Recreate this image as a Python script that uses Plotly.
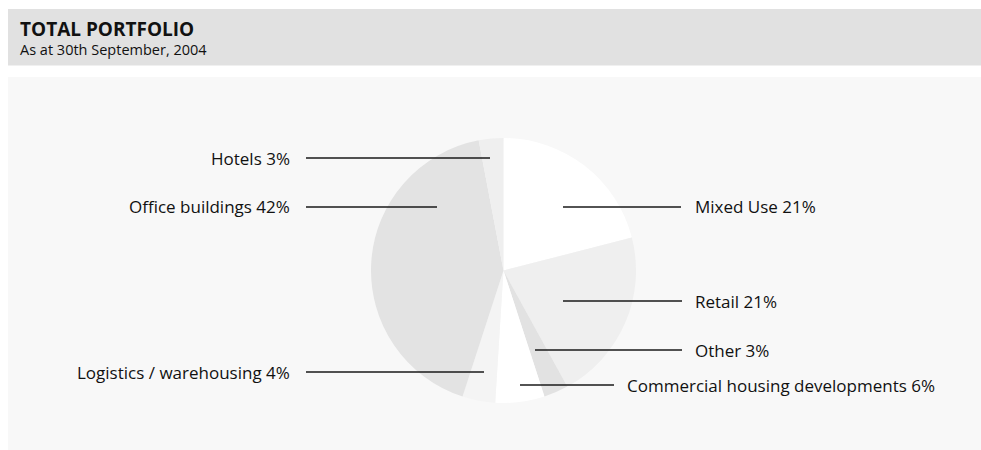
import plotly.graph_objects as go

W, H = 981, 450

categories = ["Mixed Use", "Retail", "Other", "Commercial housing developments",
              "Logistics / warehousing", "Office buildings", "Hotels"]
values = [21, 21, 3, 6, 4, 42, 3]
slice_colors = ["#ffffff", "#efefef", "#e2e2e2", "#ffffff", "#f4f4f4", "#e3e3e3", "#efefef"]

title_text = "TOTAL PORTFOLIO"
subtitle_text = "As at 30th September, 2004"

# label layout (pixel positions): side, text anchor x, y, line start, line end
label_layout = {
    "Mixed Use": ("left", 693, 207, 563, 681),
    "Retail": ("left", 693, 301, 563, 682),
    "Other": ("left", 693, 350, 535, 682),
    "Commercial housing developments": ("left", 625, 385, 520, 614),
    "Logistics / warehousing": ("right", 292, 372, 306, 484),
    "Office buildings": ("right", 292, 207, 306, 437),
    "Hotels": ("right", 292, 158, 306, 490),
}

def px(x):
    return x / W

def py(y):
    return 1 - y / H

FONT = "Open Sans"

fig = go.Figure()
fig.add_trace(go.Pie(
    labels=categories,
    values=values,
    sort=False,
    direction="clockwise",
    rotation=0,
    marker=dict(colors=slice_colors, line=dict(width=0)),
    textinfo="none",
    hoverinfo="skip",
    showlegend=False,
    domain=dict(x=[px(371), px(636)], y=[py(403), py(138)]),
))

shapes = [
    dict(type="rect", xref="paper", yref="paper", x0=px(8), x1=px(981), y0=py(65.5), y1=py(9),
         fillcolor="#e1e1e1", line=dict(width=0), layer="below"),
    dict(type="rect", xref="paper", yref="paper", x0=px(8), x1=px(981), y0=py(450), y1=py(77),
         fillcolor="#f8f8f8", line=dict(width=0), layer="below"),
]
annotations = [
    dict(text="<b>" + title_text + "</b>", x=px(18), y=py(29), xref="paper", yref="paper",
         xanchor="left", yanchor="middle", showarrow=False,
         font=dict(family=FONT, size=19, color="#111111")),
    dict(text=subtitle_text, x=px(18), y=py(49), xref="paper", yref="paper",
         xanchor="left", yanchor="middle", showarrow=False,
         font=dict(family=FONT, size=14.5, color="#111111")),
]

for cat, val in zip(categories, values):
    side, tx, ty, l0, l1 = label_layout[cat]
    shapes.append(dict(type="line", xref="paper", yref="paper",
                       x0=px(l0), x1=px(l1), y0=py(ty), y1=py(ty),
                       line=dict(color="#1a1a1a", width=1.5)))
    annotations.append(dict(
        text=f"{cat} {val}%", x=px(tx), y=py(ty), xref="paper", yref="paper",
        xanchor="left" if side == "left" else "right", yanchor="middle",
        showarrow=False, font=dict(family=FONT, size=17, color="#111111")))

fig.update_layout(
    width=W, height=H,
    margin=dict(l=0, r=0, t=0, b=0),
    paper_bgcolor="#ffffff",
    plot_bgcolor="#ffffff",
    shapes=shapes,
    annotations=annotations,
)

fig.write_html("out.html")
